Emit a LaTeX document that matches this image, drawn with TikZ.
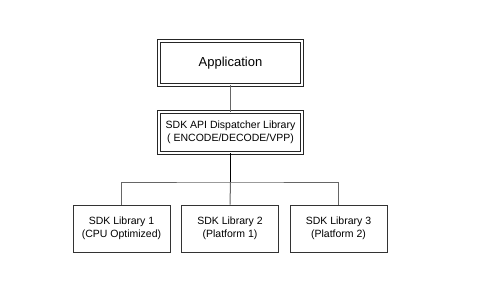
\documentclass[tikz,border=0pt]{standalone}
\usepackage{fontspec}
\setmainfont{Liberation Sans}
\begin{document}
\begin{tikzpicture}[
    x=1pt, y=-1pt,
    lib_box/.style={draw=black!80, line width=0.8pt, minimum width=97pt, minimum height=47pt,
                    align=center, font=\fontsize{10.5}{12.5}\selectfont},
    top_box/.style={draw=black!85, line width=0.8pt, double, double distance=2pt,
                    minimum width=143pt, align=center},
    link/.style={draw=black!60, line width=1pt},
    main_link/.style={draw=black, line width=1.6pt}
]
    \useasboundingbox (0,0) rectangle (484,292);

    % --- top of the stack ---
    \node[top_box, minimum height=44pt, font=\fontsize{13}{15}\selectfont] (app) at (230.5,63) {Application};
    \node[top_box, minimum height=41pt, font=\fontsize{10.5}{12.5}\selectfont] (disp) at (230.5,132.5)
        {SDK API Dispatcher Library\\( ENCODE/DECODE/VPP)};

    % --- the three libraries ---
    \node[lib_box] (lib1) at (121.5,228.5) {SDK Library 1\\(CPU Optimized)};
    \node[lib_box] (lib2) at (230,228.5) {SDK Library 2\\(Platform 1)};
    \node[lib_box] (lib3) at (338.5,228.5) {SDK Library 3\\(Platform 2)};

    \coordinate (bus) at (230.5,182);

    % --- connectors ---
    \draw[link] (app) -- (disp);
    \draw[link] (lib1.north) |- (bus) -| (lib3.north);
    \draw[link] (bus) -- (lib2.north);
    \draw[main_link] (disp.south) -- (bus);

\end{tikzpicture}
\end{document}
